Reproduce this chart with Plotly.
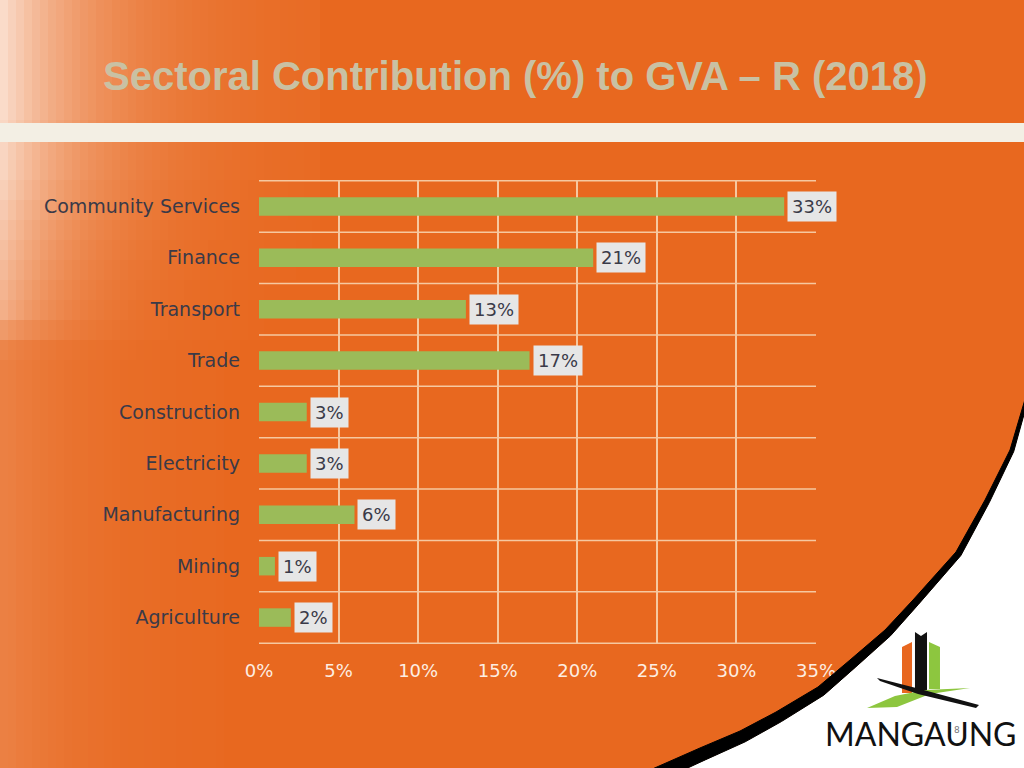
import numpy as np
import plotly.graph_objects as go

# ---- data ----
sectors = ["Community Services", "Finance", "Transport", "Trade", "Construction",
           "Electricity", "Manufacturing", "Mining", "Agriculture"]
shares = [33, 21, 13, 17, 3, 3, 6, 1, 2]
x_ticks = [0, 5, 10, 15, 20, 25, 30, 35]
x_tick_labels = ["0%", "5%", "10%", "15%", "20%", "25%", "30%", "35%"]
title_text = "Sectoral Contribution (%) to GVA – R (2018)"

W, H = 1024, 768
L, R, T, B = 259, 816, 180, 644


def px(x):
    return (x - L) / (R - L)


def py(y):
    return (B - y) / (B - T)


FONT = "DejaVu Sans"
fig = go.Figure()
fig.add_trace(go.Bar(
    y=sectors, x=shares, orientation="h",
    marker=dict(color="#9bbb59", line=dict(width=0)),
    width=0.36, hoverinfo="skip",
))

shapes = []
# left white fade: a grid of translucent white cells (decorative background)
amp_y = [0, 170, 310, 350, 768]
amp_v = [0.82, 0.75, 0.5, 0.2, 0.15]
len_v = [95, 90, 70, 85, 85]
rows = [(0, 120)] + [(y, y + 20) for y in range(120, 360, 20)] + [(360, 768)]
sw = 8
for (ya, yb) in rows:
    ym = (ya + yb) / 2
    a = np.interp(ym, amp_y, amp_v)
    lx = np.interp(ym, amp_y, len_v)
    for xa in range(0, 320, sw):
        op = a * np.exp(-(xa + sw / 2) / lx)
        if op < 0.012:
            break
        shapes.append(dict(type="rect", xref="paper", yref="paper",
                           x0=px(xa), x1=px(xa + sw), y0=py(ya), y1=py(yb),
                           fillcolor="white", opacity=float(op), line=dict(width=0),
                           layer="below"))
# light stripe
shapes.append(dict(type="rect", xref="paper", yref="paper",
                   x0=px(0), x1=px(W), y0=py(123), y1=py(142),
                   fillcolor="#f3efe4", line=dict(width=0), layer="below"))

# bottom-right white region with black arc (band widening downward)
inner = np.array([(1026, 396), (1010, 450), (985, 500), (956, 552), (913, 600),
                  (885, 630), (850, 660), (818, 687), (776, 712), (740, 731),
                  (700, 748), (650, 770)], dtype=float)
d = np.gradient(inner, axis=0)
nrm = np.stack([-d[:, 1], d[:, 0]], axis=1)
nrm /= np.linalg.norm(nrm, axis=1, keepdims=True)
nrm *= np.sign(nrm[:, 0] + nrm[:, 1])[:, None]
thick = np.linspace(3, 14, len(inner))
outer = inner + nrm * thick[:, None]


def tp(pts):
    return " L ".join(f"{px(x):.4f},{py(y):.4f}" for x, y in pts)


white_path = "M " + tp(outer) + f" L {px(1030):.4f},{py(775):.4f} L {px(1030):.4f},{py(390):.4f} Z"
band_path = "M " + tp(inner) + " L " + tp(outer[::-1]) + " Z"
shapes.append(dict(type="path", xref="paper", yref="paper", path=white_path,
                   fillcolor="white", line=dict(width=0), layer="above"))
shapes.append(dict(type="path", xref="paper", yref="paper", path=band_path,
                   fillcolor="black", line=dict(color="black", width=1), layer="above"))

# horizontal grid lines at category boundaries
for k in range(len(sectors) + 1):
    shapes.append(dict(type="line", xref="x", yref="y",
                       x0=0, x1=35, y0=k - 0.5, y1=k - 0.5,
                       line=dict(color="#f6c8a0", width=1.5), layer="below"))


# logo
def poly(pts, color):
    p = "M " + tp(pts) + " Z"
    shapes.append(dict(type="path", xref="paper", yref="paper", path=p,
                       fillcolor=color, line=dict(width=0), layer="above"))


poly([(902, 647), (912, 642), (912, 693), (902, 693)], "#e8671f")
poly([(915, 632), (921, 636), (927, 632), (927, 694), (915, 690)], "#111111")
poly([(929, 642), (940, 647), (940, 689), (929, 689)], "#8dc63f")
poly([(867, 708), (895, 696), (925, 690), (970, 688), (930, 694), (897, 707)], "#8dc63f")
poly([(877, 678), (920, 689), (979, 705), (976, 708), (918, 694), (880, 681)], "#111111")

annotations = [
    dict(text=f"<b>{title_text}</b>", xref="paper", yref="paper",
         x=px(515), y=py(76), xanchor="center", yanchor="middle", showarrow=False,
         font=dict(family="Liberation Sans", size=40, color="#c9c1a3")),
    dict(text="MANGAUNG", xref="paper", yref="paper", x=px(920), y=py(733),
         xanchor="center", yanchor="middle", showarrow=False,
         font=dict(family="Lato", size=32, color="#111111")),
    dict(text="8", xref="paper", yref="paper", x=px(957), y=py(730),
         xanchor="center", yanchor="middle", showarrow=False,
         font=dict(family=FONT, size=9, color="#777777")),
]
for s, v in zip(sectors, shares):
    annotations.append(dict(
        text=f"{v}%", x=v, y=s, xref="x", yref="y", xanchor="left", yanchor="middle",
        xshift=3, showarrow=False, bgcolor="#e6e6e6", borderpad=4,
        font=dict(family=FONT, size=18, color="#3a3a48")))

fig.update_layout(
    width=W, height=H,
    margin=dict(l=L, r=W - R, t=T, b=H - B, pad=0),
    paper_bgcolor="#e8681f", plot_bgcolor="rgba(0,0,0,0)",
    showlegend=False, bargap=0.64,
    shapes=shapes, annotations=annotations,
    xaxis=dict(range=[0, 35], tickvals=x_ticks, ticktext=x_tick_labels,
               showgrid=True, gridcolor="#f6c8a0", gridwidth=1.5,
               zeroline=False, showline=False, ticks="", ticklabelstandoff=14,
               tickfont=dict(family=FONT, size=18, color="#fdeee2"), fixedrange=True),
    yaxis=dict(autorange="reversed", showgrid=False, zeroline=False, ticks="",
               ticklabelstandoff=18, tickfont=dict(family=FONT, size=19, color="#3a3a48"),
               fixedrange=True),
)
fig.write_html("out.html", config={"displayModeBar": False},
               post_script="document.body.style.margin='0px';")
